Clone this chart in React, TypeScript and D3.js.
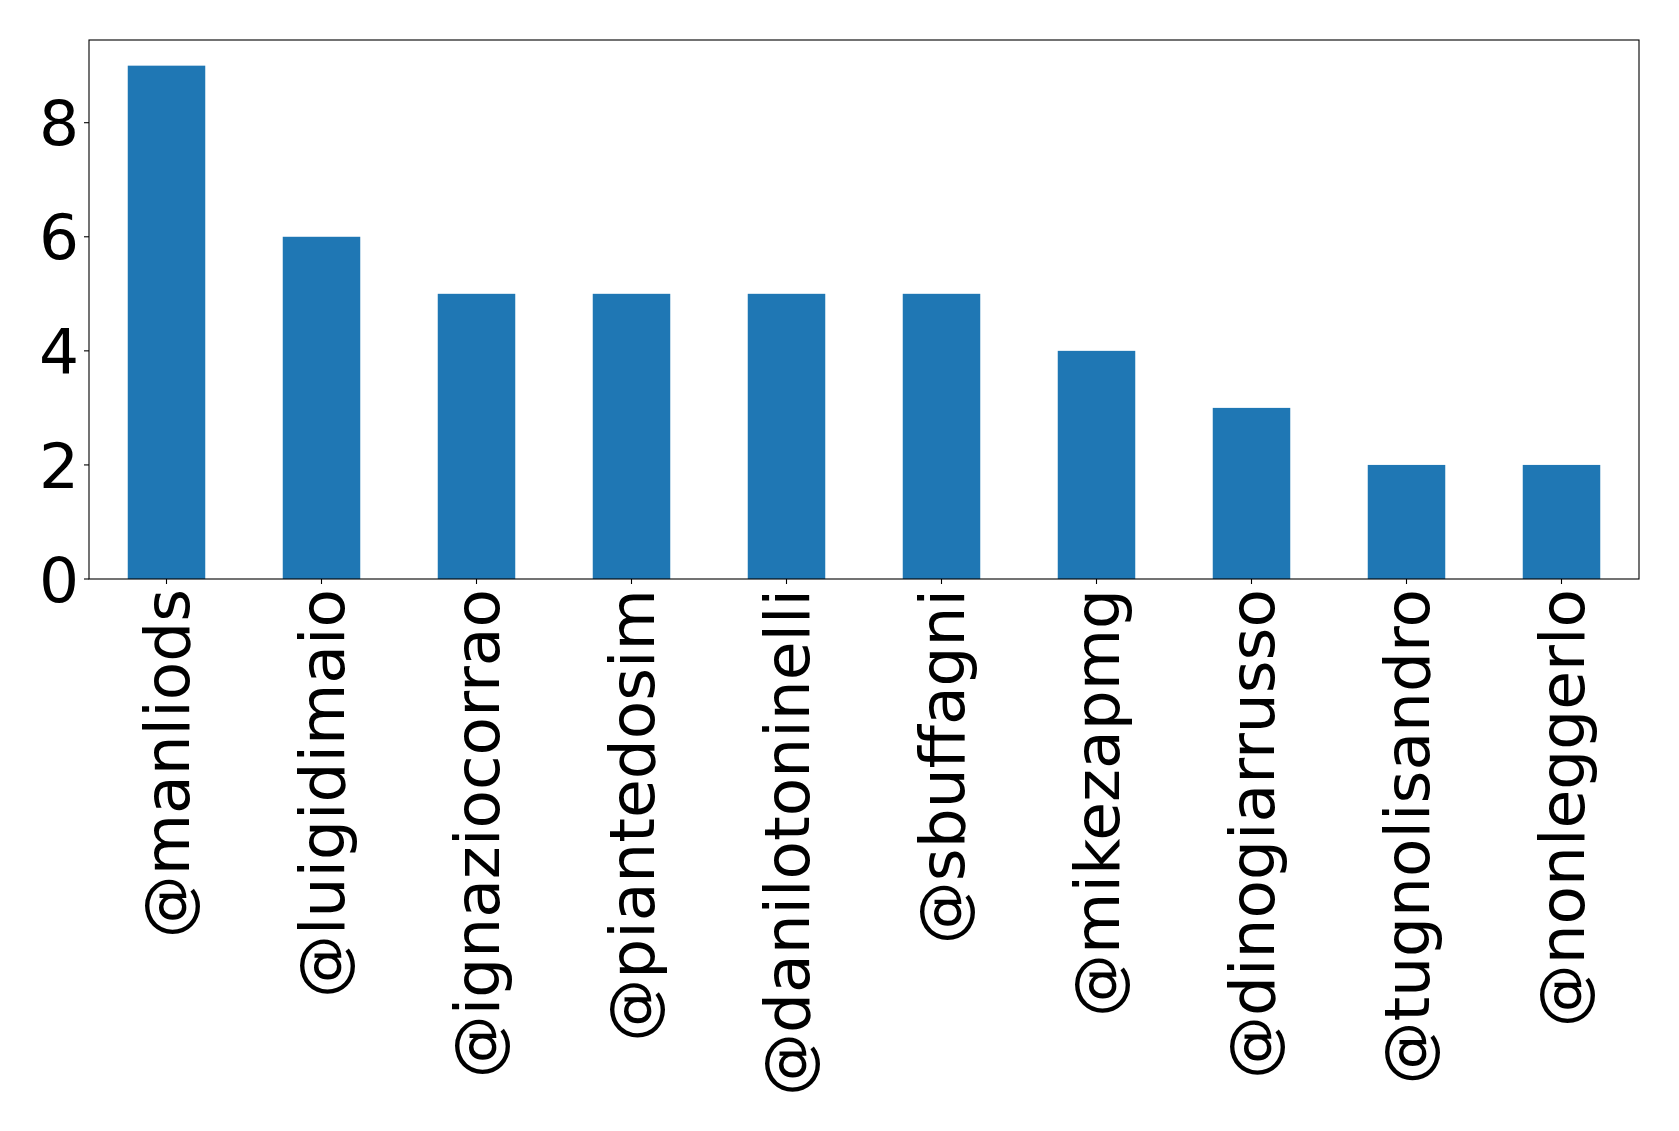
import React from "react";
import * as d3 from "d3";

const categories = ["@manliods", "@luigidimaio", "@ignaziocorrao", "@piantedosim", "@danilotoninelli", "@sbuffagni", "@mikezapmg", "@dinogiarrusso", "@tugnolisandro", "@nonleggerlo"];
const values = [9, 6, 5, 5, 5, 5, 4, 3, 2, 2];
const yTicks = [0, 2, 4, 6, 8];

const W = 1679, H = 1131;
const L = 89, R = 1639, T = 40, B = 579;
const FONT = "DejaVu Sans";
const FS = 63;

export default function App() {
  const x = d3.scaleBand<string>().domain(categories).range([L, R]).paddingInner(0.5).paddingOuter(0.25);
  const y = d3.scaleLinear().domain([0, d3.max(values)! * 1.05]).range([B, T]);
  const bw = x.bandwidth();
  return (
    <svg width={W} height={H} style={{ position: "absolute", left: 0, top: 0, background: "#fff" }}>
      <rect x={0} y={0} width={W} height={H} fill="#fff" />
      {categories.map((c, i) => (
        <rect key={c} x={x(c)!} y={y(values[i])} width={bw} height={B - y(values[i])} fill="#1f77b4" />
      ))}
      <rect x={L} y={T} width={R - L} height={B - T} fill="none" stroke="#000" strokeWidth={1.1} />
      {yTicks.map((t) => (
        <g key={t}>
          <line x1={L - 5} x2={L} y1={y(t)} y2={y(t)} stroke="#000" strokeWidth={1.1} />
          <text x={L - 10} y={y(t)} dy="0.36em" textAnchor="end" fontFamily={FONT} fontSize={FS} fill="#000">{t}</text>
        </g>
      ))}
      {categories.map((c) => {
        const cx = x(c)! + bw / 2;
        return (
          <g key={c}>
            <line x1={cx} x2={cx} y1={B} y2={B + 5} stroke="#000" strokeWidth={1.1} />
            <text transform={`translate(${cx},${B + 10}) rotate(-90)`} dy="0.36em" textAnchor="end" fontFamily={FONT} fontSize={FS} fill="#000">{c}</text>
          </g>
        );
      })}
    </svg>
  );
}
